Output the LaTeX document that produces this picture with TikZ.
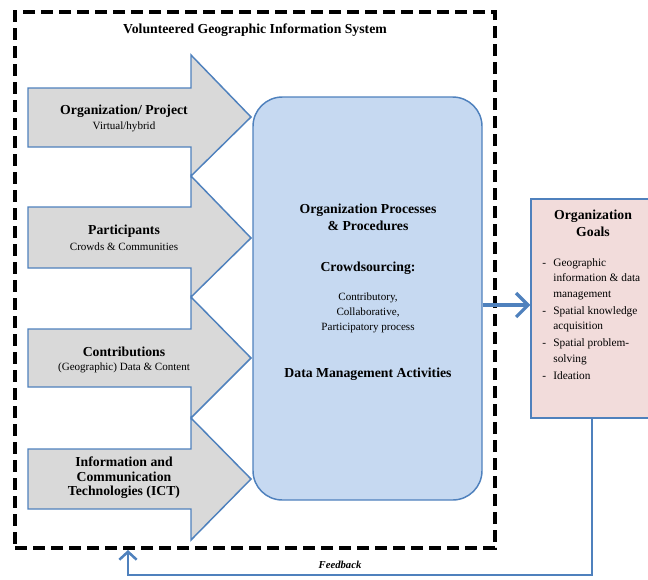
\documentclass[tikz,border=0pt]{standalone}
\usepackage{fontspec}
\setmainfont{Liberation Serif}
\usetikzlibrary{arrows.meta}

\definecolor{vgblue}{RGB}{79,129,189}
\definecolor{arrowgray}{RGB}{217,217,217}
\definecolor{procblue}{RGB}{198,217,241}
\definecolor{goalpink}{RGB}{242,220,219}

\tikzset{
  inarrow/.style={draw=vgblue, fill=arrowgray, line width=1.1pt, line join=miter},
  headtext/.style={font=\fontsize{10.3}{12.75}\selectfont\bfseries, align=center, inner sep=0pt},
  subtext/.style={font=\fontsize{8.3}{11.25}\selectfont, align=center, inner sep=0pt},
  itemtext/.style={font=\fontsize{8.5}{11.5}\selectfont, inner sep=0pt, anchor=north west},
  flowline/.style={draw=vgblue, line width=2.4pt, -{Straight Barb[length=9pt,width=18pt,line width=2.4pt]}},
  feedline/.style={draw=vgblue, line width=1.9pt, -{Straight Barb[length=6pt,width=13pt,line width=1.9pt]}}
}

\begin{document}
\begin{tikzpicture}[x=0.75pt,y=0.75pt,yscale=-1,xscale=1]
\useasboundingbox (0,0) rectangle (648,579);

% outer system boundary
\node [draw=black, line width=3pt, dash pattern=on 9pt off 4.5pt, minimum width=360pt, minimum height=402pt, inner sep=0pt] (vgis) at (255,280) {};
\node [headtext] (title) at (255,30) {Volunteered Geographic Information System};

% input arrows
\draw [inarrow] (28,88) -- (191,88) -- (191,55) -- (251,117) -- (191,176) -- (191,147) -- (28,147) -- cycle ;
\draw [inarrow] (28,207) -- (191,207) -- (191,176) -- (251,238) -- (191,297) -- (191,268) -- (28,268) -- cycle ;
\draw [inarrow] (28,329) -- (191,329) -- (191,297) -- (251,358) -- (191,418) -- (191,387) -- (28,387) -- cycle ;
\draw [inarrow] (28,449) -- (191,449) -- (191,418) -- (251,479) -- (191,540) -- (191,509) -- (28,509) -- cycle ;

\node [headtext] (orghead) at (124,111) {Organization/ Project};
\node [subtext] (orgsub) at (124,126.5) {Virtual/hybrid};
\node [headtext] (parthead) at (124,231) {Participants};
\node [subtext] (partsub) at (124,246.5) {Crowds \& Communities};
\node [headtext] (conthead) at (124,352) {Contributions};
\node [subtext] (contsub) at (124,367.5) {(Geographic) Data \& Content};
\node [headtext, font=\fontsize{10.3}{10.9}\selectfont\bfseries] (icthead) at (124,478) {Information and\\Communication\\Technologies (ICT)};

% processes
\node [draw=vgblue, fill=procblue, line width=1.1pt, rounded corners=22pt, minimum width=171.75pt, minimum height=302.25pt] (proc) at (367.5,298.5) {};
\node [headtext] (prochead) at (368,217) {Organization Processes\\\& Procedures};
\node [headtext] (crowdhead) at (368,268) {Crowdsourcing:};
\node [subtext] (crowdsub) at (368,312.5) {Contributory,\\Collaborative,\\Participatory process};
\node [headtext] (datahead) at (368,374) {Data Management Activities};

% goals
\node [draw=vgblue, fill=goalpink, line width=1.1pt, minimum width=89.25pt, minimum height=164.25pt] (goals) at (590.5,308.5) {};
\node [headtext] (goalhead) at (593,223) {Organization\\Goals};
\node [itemtext] (goallist) at (542,255.5) {\begin{tabular}{@{}l@{\hspace{5.5pt}}l@{}}
  - & Geographic\\
    & information \& data\\
    & management\\[1.4pt]
  - & Spatial knowledge\\
    & acquisition\\[1.4pt]
  - & Spatial problem-\\
    & solving\\[1.4pt]
  - & Ideation
\end{tabular}};

% connectors
\coordinate (flowy) at (507,305);
\draw [flowline] (proc.east |- flowy) -- (goals.west |- flowy) ;
\coordinate (feedcorner) at (128,575);
\draw [feedline] (goals.south -| 592,0) |- (feedcorner) -- (vgis.south -| feedcorner) ;
\node [subtext, font=\fontsize{8}{9}\selectfont\bfseries\itshape] (feedlabel) at (340,565) {Feedback};
\end{tikzpicture}
\end{document}
